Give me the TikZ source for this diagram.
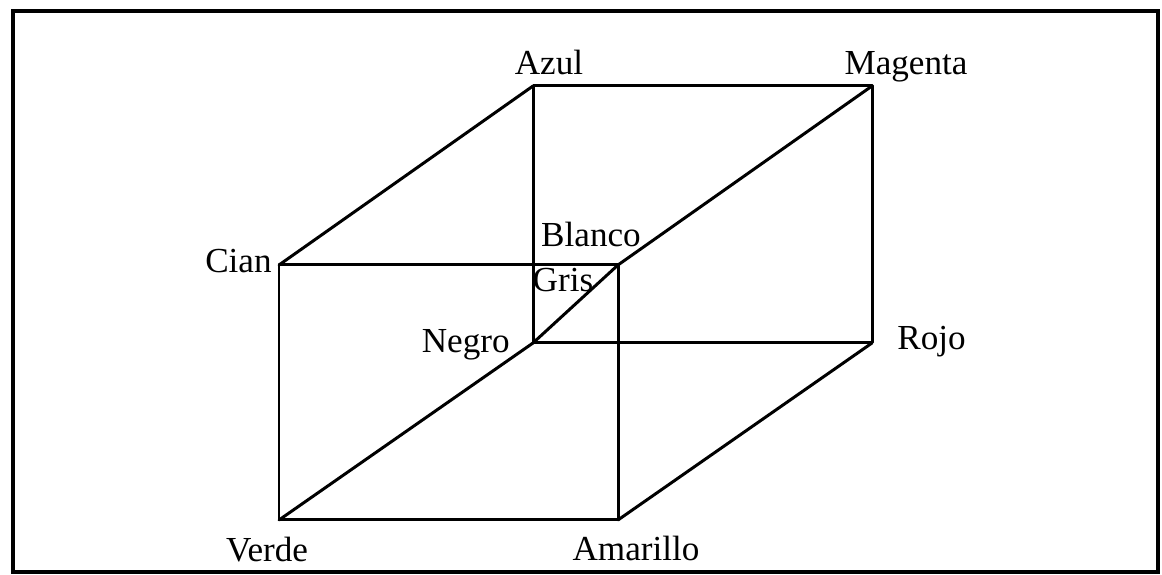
\documentclass[tikz,border=0pt]{standalone}
\usepackage{fontspec}
\setmainfont{Liberation Serif}
\usetikzlibrary{calc}
\tikzset{
	cubetext/.style={font=\fontsize{20}{23}\selectfont, inner sep=0pt}
}
\tikzset{
	edge/.style={line width=1.7pt, line cap=round, line join=round}
}
\begin{document}
\begin{tikzpicture}
      \useasboundingbox (0,0) rectangle (23.24,11.5);
      \draw[line width=2.8pt] (0.26,0.06) rectangle (23.16,11.28);
      % vertices
      \coordinate (azul) at (10.66,9.78);
      \coordinate (magenta) at (17.44,9.78);
      \coordinate (cian) at (5.58,6.20);
      \coordinate (blanco) at (12.36,6.20);
      \coordinate (negro) at (10.66,4.64);
      \coordinate (rojo) at (17.44,4.64);
      \coordinate (verde) at (5.58,1.10);
      \coordinate (amarillo) at (12.36,1.10);
      % edges
      \draw[edge] (azul) -- (magenta) -- (rojo) -- (negro) -- cycle;
      \draw[edge] (cian) -- (blanco) -- (amarillo) -- (verde) -- cycle;
      \draw[edge] (cian) -- (azul);
      \draw[edge] (blanco) -- (magenta);
      \draw[edge] (amarillo) -- (rojo);
      \draw[edge] (verde) -- (negro);
      \draw[edge] (negro) -- (blanco);
      % labels
      \node[cubetext, anchor=base] (azulL) at ($(azul)+(0.32,0.22)$) {Azul};
      \node[cubetext, anchor=base] (magentaL) at ($(magenta)+(0.68,0.22)$) {Magenta};
      \node[cubetext, anchor=base east] (cianL) at ($(cian)+(-0.14,-0.16)$) {Cian};
      \node[cubetext, anchor=base] (blancoL) at ($(blanco)+(-0.54,0.36)$) {Blanco};
      \node[cubetext, anchor=base] (grisL) at ($(blanco)+(-1.10,-0.54)$) {Gris};
      \node[cubetext, anchor=base east] (negroL) at ($(negro)+(-0.46,-0.20)$) {Negro};
      \node[cubetext, anchor=base west] (rojoL) at ($(rojo)+(0.50,-0.14)$) {Rojo};
      \node[cubetext, anchor=base] (verdeL) at ($(verde)+(-0.24,-0.84)$) {Verde};
      \node[cubetext, anchor=base] (amarilloL) at ($(amarillo)+(0.36,-0.82)$) {Amarillo};
\end{tikzpicture}
\end{document}
